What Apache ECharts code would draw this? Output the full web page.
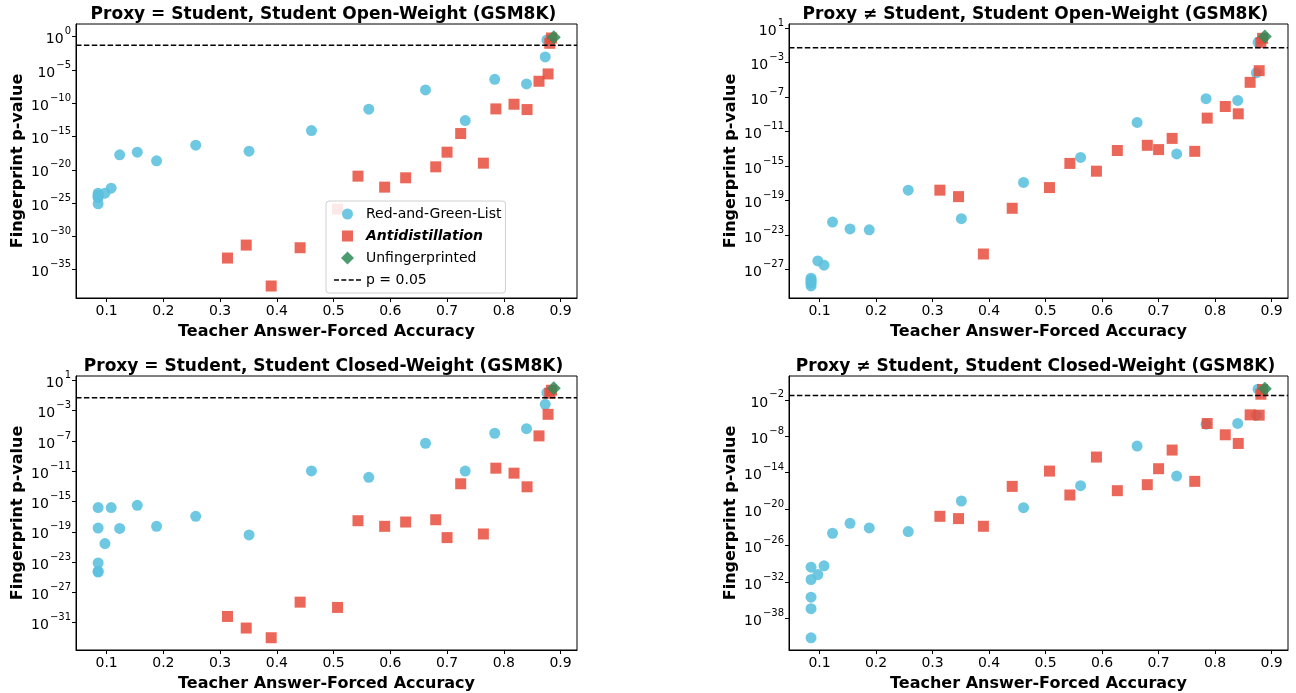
<!DOCTYPE html>
<html>
<head>
<meta charset="utf-8">
<script src="https://cdn.jsdelivr.net/npm/echarts@6/dist/echarts.min.js"></script>
<style>
  html, body { margin: 0; padding: 0; background: #fff; }
  #chart { width: 1296px; height: 693px; }
</style>
</head>
<body>
<div id="chart"></div>
<script>
// Teacher answer-forced accuracy for each fingerprinting configuration
const rgAcc   = [0.085, 0.085, 0.085, 0.085, 0.085, 0.097, 0.108, 0.123, 0.154, 0.188,
                 0.257, 0.351, 0.461, 0.562, 0.662, 0.732, 0.784, 0.840, 0.873, 0.876];
const antiAcc = [0.313, 0.346, 0.390, 0.441, 0.507, 0.543, 0.590, 0.627, 0.680, 0.700,
                 0.724, 0.764, 0.786, 0.818, 0.841, 0.862, 0.878, 0.881, 0.884];
const unfpAcc = [0.888];

// Fingerprint p-values, stored as log10(p)
const openSameRG     = [-23.5, -23.8, -24.0, -24.2, -25.1, -23.5, -22.75, -17.75, -17.35, -18.65,
                        -16.3, -17.2, -14.1, -10.9, -8.0, -12.6, -6.4, -7.1, -3.05, -0.5];
const openSameAnti   = [-33.25, -31.3, -37.45, -31.7, -25.9, -20.95, -22.6, -21.2, -19.55, -17.35,
                        -14.55, -19.0, -10.85, -10.15, -10.95, -6.7, -5.6, -1.0, -0.2];
const openSameUnfp   = [-0.1];

const openDiffRG     = [-28.0, -28.2, -28.4, -28.6, -28.9, -26.0, -26.5, -21.5, -22.3, -22.4,
                        -17.8, -21.1, -16.9, -14.0, -9.95, -13.6, -7.2, -7.4, -4.2, -0.66];
const openDiffAnti   = [-17.8, -18.55, -25.2, -19.9, -17.5, -14.7, -15.6, -13.2, -12.6, -13.1,
                        -11.8, -13.3, -9.45, -8.1, -8.95, -5.3, -3.95, -0.7, -0.2];
const openDiffUnfp   = [0.0];

const closedSameRG   = [-15.8, -18.5, -23.1, -24.2, -24.3, -20.55, -15.8, -18.55, -15.5, -18.27,
                        -16.95, -19.4, -10.95, -11.8, -7.3, -10.98, -5.98, -5.37, -2.16, -0.62];
const closedSameAnti = [-30.17, -31.7, -32.98, -28.28, -28.98, -17.53, -18.27, -17.7, -17.4, -19.76,
                        -12.65, -19.28, -10.59, -11.25, -13.05, -6.33, -3.48, -0.7, -0.3];
const closedSameUnfp = [-0.05];

const closedDiffRG   = [-29.56, -31.59, -34.5, -36.4, -41.2, -30.77, -29.34, -23.97, -22.33, -23.1,
                        -23.7, -18.66, -19.75, -16.14, -9.62, -14.55, -6.0, -5.89, -4.52, -0.25];
const closedDiffAnti = [-21.18, -21.56, -22.82, -16.25, -13.73, -17.67, -11.42, -16.96, -15.97, -13.34,
                        -10.27, -15.42, -5.89, -7.75, -9.18, -4.47, -4.52, -1.07, -0.3];
const closedDiffUnfp = [-0.19];

const significance = 0.05;

// Tick labels
const xTicks = [0.1, 0.2, 0.3, 0.4, 0.5, 0.6, 0.7, 0.8, 0.9];
const yTicksOpenSame   = [0, -5, -10, -15, -20, -25, -30, -35];
const yTicksOpenDiff   = [1, -3, -7, -11, -15, -19, -23, -27];
const yTicksClosedSame = [1, -3, -7, -11, -15, -19, -23, -27, -31];
const yTicksClosedDiff = [-2, -8, -14, -20, -26, -32, -38];

const titles = [
  'Proxy = Student, Student Open-Weight (GSM8K)',
  'Proxy \u2260 Student, Student Open-Weight (GSM8K)',
  'Proxy = Student, Student Closed-Weight (GSM8K)',
  'Proxy \u2260 Student, Student Closed-Weight (GSM8K)'
];

const FONT = 'DejaVu Sans';
const X_MIN = 0.046, X_MAX = 0.929;

const panels = [
  { rg: openSameRG, anti: openSameAnti, unfp: openSameUnfp, ticks: yTicksOpenSame, yMin: -39.25, yMax: 1.9,
    grid: { left: 76, top: 24, width: 501, height: 274 } },
  { rg: openDiffRG, anti: openDiffAnti, unfp: openDiffUnfp, ticks: yTicksOpenDiff, yMin: -30.3, yMax: 1.46,
    grid: { left: 789, top: 24, width: 499, height: 274 } },
  { rg: closedSameRG, anti: closedSameAnti, unfp: closedSameUnfp, ticks: yTicksClosedSame, yMin: -34.6, yMax: 1.58,
    grid: { left: 76, top: 376, width: 501, height: 274 } },
  { rg: closedDiffRG, anti: closedDiffAnti, unfp: closedDiffUnfp, ticks: yTicksClosedDiff, yMin: -43.2, yMax: 1.93,
    grid: { left: 789, top: 376, width: 499, height: 274 } }
];

const zip = (xs, ys) => xs.map((x, i) => [x, ys[i]]);
const supLabel = v => {
  const e = Math.round(v);
  return '{b|10}{s|' + (e < 0 ? '\u2212' + (-e) : String(e)) + '}';
};

const grids = [], xAxes = [], yAxes = [], series = [], titleOpts = [];

panels.forEach((p, i) => {
  grids.push(Object.assign({ show: true, borderColor: '#000', borderWidth: 1, containLabel: false }, p.grid));
  titleOpts.push({
    text: titles[i],
    left: p.grid.left + p.grid.width / 2 - 8,
    top: p.grid.top - 23,
    textAlign: 'center',
    textStyle: { fontFamily: FONT, fontWeight: 'bold', fontSize: 17, color: '#000' }
  });
  xAxes.push({
    gridIndex: i, type: 'value', min: X_MIN, max: X_MAX,
    name: 'Teacher Answer-Forced Accuracy', nameLocation: 'middle', nameGap: 26,
    nameTextStyle: { fontFamily: FONT, fontWeight: 'bold', fontSize: 16, color: '#000' },
    axisLine: { show: true, onZero: false, lineStyle: { color: '#000', width: 1 } },
    axisTick: { show: true, length: 4, customValues: xTicks, lineStyle: { color: '#000' } },
    axisLabel: { customValues: xTicks, formatter: v => v.toFixed(1), fontFamily: FONT, fontSize: 14, color: '#000', margin: 6 },
    splitLine: { show: false }
  });
  yAxes.push({
    gridIndex: i, type: 'value', min: p.yMin, max: p.yMax,
    name: 'Fingerprint p-value', nameLocation: 'middle', nameGap: 50,
    nameTextStyle: { fontFamily: FONT, fontWeight: 'bold', fontSize: 16, color: '#000' },
    axisLine: { show: true, onZero: false, lineStyle: { color: '#000', width: 1 } },
    axisTick: { show: true, length: 4, customValues: p.ticks, lineStyle: { color: '#000' } },
    axisLabel: {
      customValues: p.ticks, formatter: supLabel, margin: 5, color: '#000',
      rich: {
        b: { fontFamily: FONT, fontSize: 14, color: '#000', lineHeight: 20, verticalAlign: 'bottom' },
        s: { fontFamily: FONT, fontSize: 10, color: '#000', verticalAlign: 'top', padding: [0, 0, 0, 1] }
      }
    },
    splitLine: { show: false }
  });
  series.push({
    name: 'Red-and-Green-List', type: 'scatter', xAxisIndex: i, yAxisIndex: i,
    symbol: 'circle', symbolSize: 11,
    itemStyle: { color: '#5bc0de', opacity: 0.88 },
    data: zip(rgAcc, p.rg)
  });
  series.push({
    name: 'Antidistillation', type: 'scatter', xAxisIndex: i, yAxisIndex: i,
    symbol: 'rect', symbolSize: 11,
    itemStyle: { color: '#e74c3c', opacity: 0.85 },
    data: zip(antiAcc, p.anti)
  });
  series.push({
    name: 'Unfingerprinted', type: 'scatter', xAxisIndex: i, yAxisIndex: i,
    symbol: 'diamond', symbolSize: 14,
    itemStyle: { color: '#2e8b57', opacity: 0.85 },
    data: zip(unfpAcc, p.unfp)
  });
  series.push({
    name: 'p = 0.05', type: 'line', xAxisIndex: i, yAxisIndex: i,
    symbol: 'none', silent: true,
    lineStyle: { color: '#000', width: 1.5, type: [5.5, 2.4] },
    itemStyle: { color: '#000' },
    data: [[X_MIN, Math.log10(significance)], [X_MAX, Math.log10(significance)]]
  });
});

// Legend icons drawn as paths so they keep their proportions
// (tiny corner specks pad the bounding box so the visible shape stays smaller)
const ICON_CIRCLE  = 'path://M6.5,1A5.5,5.5,0,1,1,6.49,1Z M0,0H0.01V0.01H0Z M13,13H12.99V12.99H13Z';
const ICON_SQUARE  = 'path://M1,1H12V12H1Z M0,0H0.01V0.01H0Z M13,13H12.99V12.99H13Z';
const ICON_DIAMOND = 'path://M6.5,0L13,6.5L6.5,13L0,6.5Z';
const ICON_DASHES  = 'path://M0,0H5V1.6H0ZM7.3,0H12.3V1.6H7.3ZM14.6,0H19.6V1.6H14.6ZM21.9,0H26.9V1.6H21.9Z';

const chart = echarts.init(document.getElementById('chart'), null, { renderer: 'canvas' });
chart.setOption({
  animation: false,
  backgroundColor: '#fff',
  title: titleOpts,
  grid: grids,
  xAxis: xAxes,
  yAxis: yAxes,
  legend: {
    orient: 'vertical',
    left: 326, top: 201,
    data: [
      { name: 'Red-and-Green-List', icon: ICON_CIRCLE },
      { name: 'Antidistillation', icon: ICON_SQUARE },
      { name: 'Unfingerprinted', icon: ICON_DIAMOND },
      { name: 'p = 0.05', icon: ICON_DASHES, itemStyle: { color: '#000' } }
    ],
    symbolKeepAspect: true,
    itemWidth: 27, itemHeight: 13, itemGap: 8,
    padding: [6, 4, 6, 8],
    backgroundColor: 'rgba(255,255,255,0.85)',
    borderColor: '#d0d0d0', borderWidth: 1, borderRadius: 3,
    formatter: name => name === 'Antidistillation' ? '{bi|' + name + '}' : name,
    textStyle: {
      fontFamily: FONT, fontSize: 14, color: '#000',
      rich: { bi: { fontFamily: FONT, fontSize: 14, fontStyle: 'italic', fontWeight: 'bold', color: '#000' } }
    }
  },
  series: series
});
</script>
</body>
</html>
